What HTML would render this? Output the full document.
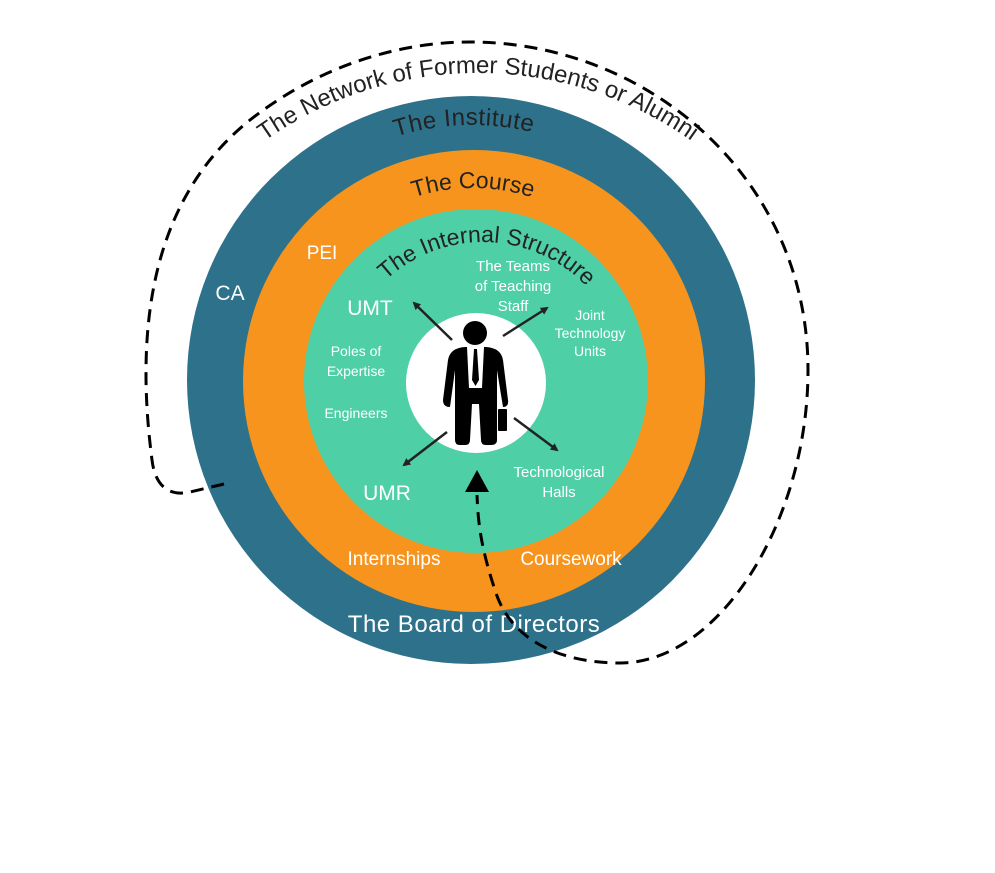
<!DOCTYPE html>
<html><head><style>
html,body{margin:0;padding:0;background:#fff;width:995px;height:873px;overflow:hidden}
svg text{font-family:"Liberation Sans",sans-serif}
</style></head><body>
<svg width="995" height="873" viewBox="0 0 995 873" xmlns="http://www.w3.org/2000/svg">
<defs>
<path id="aNet" d="M109,442 A369,369 0 0 1 847,442"/>
<path id="aInst" d="M217,380 A255,255 0 0 1 727,380"/>
<path id="aCourse" d="M281,380 A192,192 0 0 1 665,380"/>
<path id="aInt" d="M340,385 A143,143 0 0 1 626,385"/>
<marker id="ah" markerWidth="8" markerHeight="8" refX="6" refY="4" orient="auto" markerUnits="userSpaceOnUse"><path d="M0,0 L8,4 L0,8 Z" fill="#222"/></marker>
</defs>
<circle cx="471" cy="380" r="284" fill="#2e718b"/>
<circle cx="474" cy="381" r="231" fill="#f7941d"/>
<circle cx="476" cy="381" r="172" fill="#4ecfa6"/>
<circle cx="476" cy="383" r="70" fill="#fff"/>
<text font-size="24" fill="#222"><textPath href="#aNet" startOffset="50%" text-anchor="middle">The Network of Former Students or Alumni</textPath></text>
<text font-size="24" fill="#222" letter-spacing="0.5"><textPath href="#aInst" startOffset="49%" text-anchor="middle">The Institute</textPath></text>
<text font-size="23" fill="#222"><textPath href="#aCourse" startOffset="50%" text-anchor="middle">The Course</textPath></text>
<text font-size="23" fill="#222"><textPath href="#aInt" startOffset="51%" text-anchor="middle">The Internal Structure</textPath></text>
<g fill="#fff">
<text x="230" y="300" font-size="21" text-anchor="middle">CA</text>
<text x="322" y="259" font-size="19" text-anchor="middle">PEI</text>
<text x="370" y="315" font-size="21" text-anchor="middle">UMT</text>
<text x="387" y="500" font-size="21" text-anchor="middle">UMR</text>
<text x="513" y="271" font-size="15" text-anchor="middle">The Teams</text>
<text x="513" y="291" font-size="15" text-anchor="middle">of Teaching</text>
<text x="513" y="311" font-size="15" text-anchor="middle">Staff</text>
<text x="590" y="320" font-size="14" text-anchor="middle">Joint</text>
<text x="590" y="338" font-size="14" text-anchor="middle">Technology</text>
<text x="590" y="356" font-size="14" text-anchor="middle">Units</text>
<text x="356" y="356" font-size="14" text-anchor="middle">Poles of</text>
<text x="356" y="376" font-size="14" text-anchor="middle">Expertise</text>
<text x="356" y="418" font-size="14" text-anchor="middle">Engineers</text>
<text x="559" y="477" font-size="15" text-anchor="middle">Technological</text>
<text x="559" y="497" font-size="15" text-anchor="middle">Halls</text>
<text x="394" y="565" font-size="19" text-anchor="middle">Internships</text>
<text x="571" y="565" font-size="19" text-anchor="middle">Coursework</text>
<text x="474" y="632" font-size="24" text-anchor="middle" letter-spacing="0.5">The Board of Directors</text>
</g>
<g stroke="#222" stroke-width="2.5" marker-end="url(#ah)">
<line x1="452" y1="340" x2="414" y2="303"/>
<line x1="503" y1="336" x2="547" y2="308"/>
<line x1="447" y1="432" x2="404" y2="465"/>
<line x1="514" y1="418" x2="557" y2="450"/>
</g>
<g fill="#000">
<circle cx="475" cy="333" r="12"/>
<path d="M448,360 Q450,348 465,347 L486,347 Q501,348 503,360 L508,400 Q509,407 503,407 L497,370 L497,440 Q497,445 491,445 L486,445 Q481,445 481,440 L479,404 L472,404 L470,440 Q470,445 465,445 L460,445 Q455,445 455,440 L455,370 L450,407 Q443,407 443,400 Z"/>
<rect x="498" y="409" width="9" height="22" rx="1"/>
</g>
<path d="M467,347 L484,347 L482,388 L469,388 Z" fill="#fff"/>
<path d="M474,349 L477,349 L479,380 L475.5,386 L472,380 Z" fill="#000"/>
<path d="M224,484 L190,492 C168,497 155,485 152,460 C135,330 150,200 250,120 C320,65 400,42 470,42 C650,42 808,180 808,370 C808,520 720,663 620,663 C560,663 510,640 495,590 C480,545 478,520 477,495" fill="none" stroke="#000" stroke-width="3" stroke-dasharray="13,8"/>
<path d="M477,470 L465,492 L489,492 Z" fill="#000"/>
</svg>
</body></html>
